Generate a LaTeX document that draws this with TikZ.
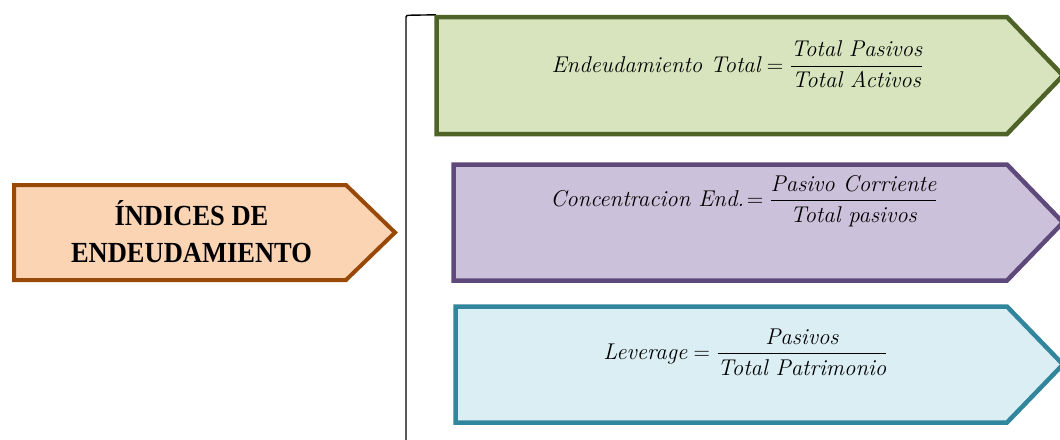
\RequirePackage{fix-cm}
\documentclass[tikz,border=0pt]{standalone}
\usepackage{amsmath}
\usepackage{fontspec}
\newfontfamily\titlefont{Liberation Serif}
\definecolor{brownline}{HTML}{984807}
\definecolor{brownfill}{HTML}{FBD4B4}
\definecolor{greenline}{HTML}{4F6228}
\definecolor{greenfill}{HTML}{D7E4BD}
\definecolor{purpleline}{HTML}{5F497A}
\definecolor{purplefill}{HTML}{CCC1DA}
\definecolor{tealline}{HTML}{31859C}
\definecolor{tealfill}{HTML}{DBEEF4}
\begin{document}
\begin{tikzpicture}[x=1pt,y=-1pt,
  arrowbox/.style={line width=4.5pt},
  titletext/.style={font=\titlefont\bfseries\fontsize{26.5}{37}\selectfont, inner sep=0pt, anchor=base},
  formula/.style={font=\fontsize{22.8}{27}\selectfont, inner sep=0pt, anchor=base},
  bracket/.style={line width=1.4pt, black}]
\useasboundingbox (0,0) rectangle (1060,439);
\clip (0,0) rectangle (1060,439);
% left arrow box
\draw[arrowbox, line width=4pt, draw=brownline, fill=brownfill]
  (14,185) -- (346,185) -- (395,232.5) -- (346,280) -- (14,280) -- cycle;
\node[titletext] (t1) at (191.5,225) {\scalebox{1}[1.1]{ÍNDICES DE}};
\node[titletext] (t2) at (191.5,262) {\scalebox{1}[1.1]{ENDEUDAMIENTO}};
% bracket
\coordinate (bb) at (406,440);
\coordinate (bt) at (406,17);
\coordinate (bh) at (436,14.8);
\draw[bracket] (bb) -- (bt) .. controls (406,15.4) and (407,15.3) .. (411,15.2) -- (bh);
% green
\draw[arrowbox, draw=greenline, fill=greenfill]
  (436.5,17) -- (1007,17) -- (1063,75.5) -- (1007,134) -- (436.5,134) -- cycle;
\node[formula] (f1) at (737.5,72)
  {$\textit{Endeudamiento Total} = \dfrac{\textit{Total Pasivos}}{\textit{Total Activos}}$};
% purple
\draw[arrowbox, draw=purpleline, fill=purplefill]
  (453.5,164.5) -- (1007,164.5) -- (1063,222.5) -- (1007,280.5) -- (453.5,280.5) -- cycle;
\node[formula] (f2) at (744,206.5)
  {$\textit{Concentracion End.}\!= \dfrac{\textit{Pasivo Corriente}}{\textit{Total pasivos}}$};
% teal
\draw[arrowbox, draw=tealline, fill=tealfill]
  (455.5,306.5) -- (1007,306.5) -- (1063,364.5) -- (1007,422.5) -- (455.5,422.5) -- cycle;
\node[formula] (f3) at (745.5,359.5)
  {$\textit{Leverage} = \dfrac{\textit{Pasivos}}{\textit{Total Patrimonio}}$};
\end{tikzpicture}
\end{document}
